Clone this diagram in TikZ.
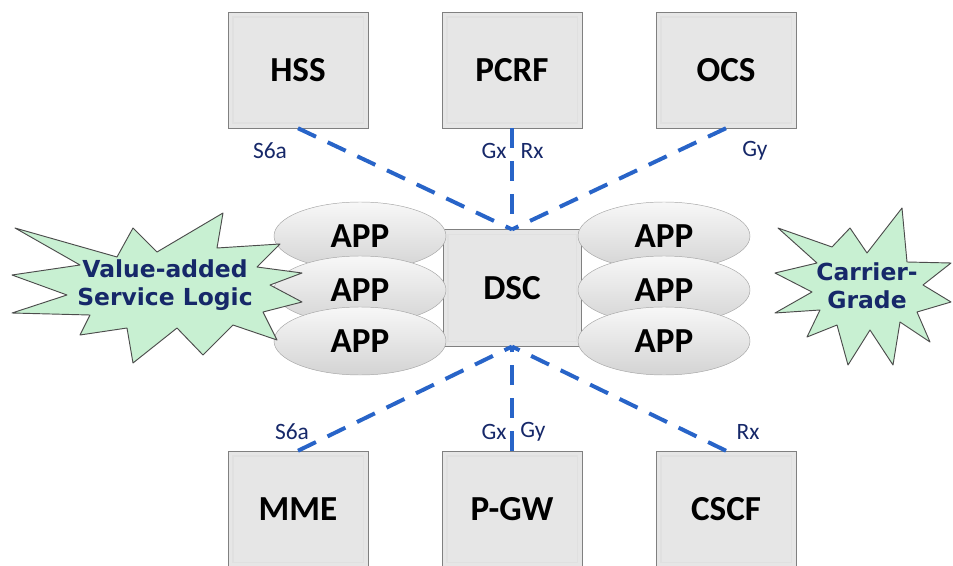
\documentclass[tikz,border=0pt]{standalone}
\usepackage{fontspec}
\setmainfont{Carlito}
\newfontfamily\starfont{DejaVu Sans}
\usetikzlibrary{shapes.geometric}
\definecolor{ifblue}{RGB}{40,100,200}
\definecolor{navy}{RGB}{22,40,105}
\definecolor{boxgray}{RGB}{230,230,230}
\definecolor{burstgreen}{RGB}{200,240,210}
\begin{document}
\begin{tikzpicture}[x=0.03cm,y=-0.03cm,
  netbox/.style={rectangle,minimum width=4.2cm,minimum height=3.48cm,fill=boxgray,draw=black!50,
    font=\fontsize{30}{32}\selectfont\bfseries,
    path picture={\draw[white!88!black,line width=1.4pt]
      ([xshift=4pt,yshift=4pt]path picture bounding box.south west) rectangle
      ([xshift=-4pt,yshift=-4pt]path picture bounding box.north east);}},
  appnode/.style={ellipse,minimum width=5.16cm,minimum height=2.04cm,draw=black!35,
    top color=white!97!black,bottom color=black!17,font=\fontsize{30}{32}\selectfont\bfseries},
  ifline/.style={ifblue,line width=3.4pt,dash pattern=on 17pt off 11pt},
  iflabel/.style={text=navy,font=\fontsize{20}{22}\selectfont},
  burst/.style={fill=burstgreen,draw=black!70,line width=0.8pt,line join=round},
  bursttext/.style={text=navy,align=center,font=\starfont\fontsize{20}{24}\selectfont\bfseries}]
  \useasboundingbox (0,0) rectangle (953,566);
  \node[netbox] (hss) at (298,70) {HSS};
  \node[netbox] (pcrf) at (512,70) {PCRF};
  \node[netbox] (ocs) at (726,70) {OCS};
  \node[netbox] (mme) at (298,509) {MME};
  \node[netbox] (pgw) at (512,509) {P-GW};
  \node[netbox] (cscf) at (726,509) {CSCF};
  \node[netbox,minimum width=4.14cm,minimum height=3.5cm] (dsc) at (512,288) {DSC};
  \foreach \n in {hss,pcrf,ocs} {\draw[ifline] (\n.south) -- (dsc.north);}
  \foreach \n in {mme,pgw,cscf} {\draw[ifline] (\n.north) -- (dsc.south);}
  \node[iflabel] (s6top) at (270,151) {S6a};
  \node[iflabel] (gxtop) at (494,151) {Gx};
  \node[iflabel] (rxtop) at (532,151) {Rx};
  \node[iflabel] (gytop) at (755,151) {Gy};
  \node[iflabel] (s6bot) at (292,432) {S6a};
  \node[iflabel] (gxbot) at (494,432) {Gx};
  \node[iflabel] (gybot) at (533,432) {Gy};
  \node[iflabel] (rxbot) at (748,432) {Rx};
  \foreach \i/\y in {1/236,2/290,3/341} {
    \node[appnode] (appL\i) at (360,\y) {APP};
    \node[appnode] (appR\i) at (664,\y) {APP};
  }
  \draw[burst] (12,275) -- (80,265) -- (15,228) -- (117,257) -- (133,228) -- (157,252)
    -- (223,213) -- (217,248) -- (280,244) -- (257,267) -- (302,273) -- (270,285)
    -- (302,302) -- (263,312) -- (277,340) -- (233,325) -- (203,355) -- (177,328)
    -- (133,363) -- (127,328) -- (80,335) -- (90,315) -- (12,313) -- (67,295) -- cycle;
  \node[bursttext] (valtext) at (165,285) {Value-added\\Service Logic};
  \draw[burst] (775,273) -- (817,263) -- (778,228) -- (832,247) -- (850,228) -- (867,253)
    -- (902,208) -- (907,262) -- (951,263) -- (923,285) -- (951,302) -- (917,312)
    -- (930,342) -- (900,322) -- (893,365) -- (870,330) -- (848,365) -- (837,325)
    -- (807,337) -- (820,310) -- (775,313) -- (812,292) -- cycle;
  \node[bursttext] (cgtext) at (867,286) {Carrier-\\Grade};
\end{tikzpicture}
\end{document}
